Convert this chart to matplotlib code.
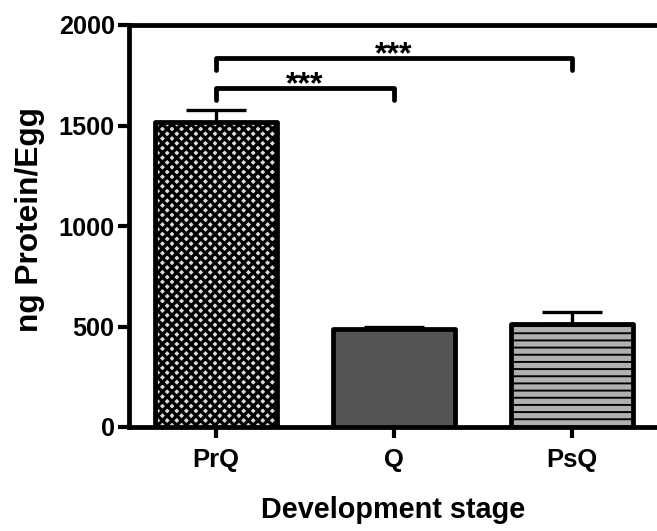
import matplotlib
matplotlib.use("Agg")
import matplotlib.pyplot as plt

# Protein content per egg at each development stage (mean + SEM)
stages = ["PrQ", "Q", "PsQ"]
protein = [1518, 486, 512]
sem = [58, 14, 60]
fills = ["#dcdcdc", "#555555", "#b0b0b0"]
hatches = ["xxx", "", "--"]
hatch_widths = [2.7, 1.0, 1.6]

# significance brackets: (left bar, right bar, height, label)
brackets = [(0, 1, 1687, "***"), (0, 2, 1836, "***")]
bracket_drop = 60

DPI = 86
plt.rcParams["font.family"] = ["Liberation Sans", "DejaVu Sans"]
plt.rcParams["font.weight"] = "bold"

fig = plt.figure(figsize=(657 / DPI, 531 / DPI), dpi=DPI)
ax = fig.add_axes([129 / 657, 104 / 531, 528 / 657, 402 / 531])

x = list(range(len(stages)))
for i in x:
    plt.rcParams["hatch.linewidth"] = hatch_widths[i]
    plt.rcParams["hatch.color"] = "black"
    ax.bar(x[i], protein[i], width=0.685, color=fills[i], edgecolor="black",
           linewidth=4.0, hatch=hatches[i], joinstyle="round", zorder=3)

ax.errorbar(x, protein, yerr=[[0] * len(sem), sem], fmt="none", ecolor="black",
            elinewidth=2.8, capsize=25, capthick=2.8, zorder=2)

for a, b, h, lab in brackets:
    ax.plot([a, a, b, b], [h - bracket_drop, h, h, h - bracket_drop], color="black",
            lw=4, solid_capstyle="round", solid_joinstyle="round", clip_on=False)
    ax.text((a + b) / 2, h - 25, lab, ha="center", va="baseline", fontsize=27,
            fontweight="bold")

ax.set_xlim(-0.49, 2.478)
ax.set_ylim(0, 2000)
ax.set_yticks([0, 500, 1000, 1500, 2000])
ax.set_xticks(x)
ax.set_xticklabels(stages)

for side in ["left", "bottom", "top"]:
    ax.spines[side].set_linewidth(4)
    ax.spines[side].set_capstyle("projecting")
ax.spines["right"].set_visible(False)

ax.tick_params(axis="both", direction="out", length=9, width=3.5, labelsize=21,
               pad=3)
ax.tick_params(axis="x", labelsize=21.5, pad=9)
ax.tick_params(top=False)

ax.set_ylabel("ng Protein/Egg", fontsize=26.5, fontweight="bold")
ax.yaxis.set_label_coords(-0.159, 0.515)
ax.set_xlabel("Development stage", fontsize=24.2, fontweight="bold")
ax.xaxis.set_label_coords(0.5, -0.172)

fig.savefig("out.png", dpi=DPI)
